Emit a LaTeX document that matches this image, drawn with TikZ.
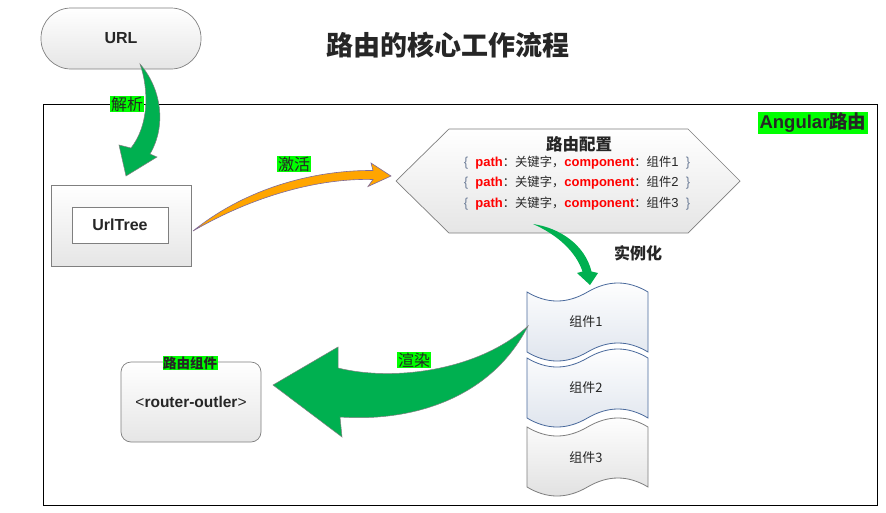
\documentclass[tikz,border=0pt]{standalone}
\usepackage{fontspec}
\setmainfont{Liberation Sans}
\newfontfamily\cjk{Noto Sans CJK SC}
\definecolor{arrgreen}{HTML}{00B050}
\definecolor{lblgreen}{HTML}{00FF00}
\definecolor{txt}{HTML}{262626}
\definecolor{bracec}{HTML}{6F7F99}
\definecolor{compblue}{HTML}{4A6A9C}
\definecolor{orng}{HTML}{FFA500}
\definecolor{orngline}{HTML}{7E6A9A}
\definecolor{edgegray}{HTML}{7F7F7F}
\definecolor{cfgred}{HTML}{FF0000}
\newcommand\cfgline[1]{{\color{bracec}\{}\ \ {\bfseries\color{cfgred}path}{\cjk\fontsize{12.3}{14}\selectfont ：关键字，}{\bfseries\color{cfgred}component}{\cjk\fontsize{12.3}{14}\selectfont ：组件}#1\ \ {\color{bracec}\}}}
\tikzset{
  greenlbl/.style={fill=lblgreen, inner sep=1pt, text=txt, font=\cjk\fontsize{16}{18}\selectfont},
  greenarrow/.style={fill=arrgreen, draw=edgegray, line width=0.5pt},
  grayshade/.style={top color=white, bottom color=black!10, draw=edgegray, line width=0.7pt},
  compblueshade/.style={top color=white, bottom color=compblue!18, draw=compblue, line width=0.8pt},
  compgrayshade/.style={top color=white, bottom color=black!12, draw=edgegray, line width=0.8pt},
  boldtext/.style={text=txt, font=\bfseries\fontsize{16}{18}\selectfont},
  comptext/.style={text=txt, font=\cjk\fontsize{13}{15}\selectfont},
}
\begin{document}
\begin{tikzpicture}[x=1pt,y=-1pt]
\useasboundingbox (0,0) rectangle (886,512);
\fill[white] (0,0) rectangle (886,512);

% title
\node[text=txt, font=\cjk\bfseries\fontsize{27}{30}\selectfont] (title) at (448,45) {路由的核心工作流程};

% frame
\draw[line width=0.9pt] (43,104) rectangle (877,505);
\node[fill=lblgreen, inner sep=1.5pt, text=txt, font=\bfseries\fontsize{18.5}{20}\selectfont] (ang) at (813,123) {Angular{\cjk 路由}};

% URL
\node[grayshade, rounded corners=30pt, minimum width=160, minimum height=61, boldtext] (url) at (121,38.5) {URL};

% UrlTree
\node[grayshade, minimum width=140, minimum height=81] (tree) at (121,225.5) {};
\node[draw=edgegray, fill=white, line width=0.7pt, minimum width=96, minimum height=36, boldtext] (treein) at (120,225) {UrlTree};

% config hexagon
\shade[grayshade] (396,181) -- (449,129) -- (688,129) -- (740,181) -- (688,233) -- (449,233) -- cycle;
\node[text=txt, font=\cjk\bfseries\fontsize{16.5}{18}\selectfont] (cfgtitle) at (579,144) {路由配置};
\node[text=txt, font=\fontsize{13}{15}\selectfont] (cfg1) at (577,163) {\cfgline{1}};
\node[text=txt, font=\fontsize{13}{15}\selectfont] (cfg2) at (577,183) {\cfgline{2}};
\node[text=txt, font=\fontsize{13}{15}\selectfont] (cfg3) at (577,204) {\cfgline{3}};

% components
\foreach \y/\sty/\n in {292/compblueshade/1, 358/compblueshade/2, 427/compgrayshade/3}{
  \shade[\sty] (527,\y) .. controls (547,\y+12) and (567,\y+12) .. (587.5,\y)
     .. controls (608,\y-12) and (628,\y-12) .. (648,\y) -- (648,\y+60)
     .. controls (628,\y+48) and (608,\y+48) .. (587.5,\y+60)
     .. controls (567,\y+72) and (547,\y+72) .. (527,\y+60) -- cycle;
}
\node[comptext] (comp1) at (586,322) {组件1};
\node[comptext] (comp2) at (586,388) {组件2};
\node[comptext] (comp3) at (586,458) {组件3};

% router-outlet box
\node[grayshade, rounded corners=10pt, minimum width=140, minimum height=80, text=txt, font=\bfseries\fontsize{15.5}{17}\selectfont] (outlet) at (191,402) {{\mdseries<}router-outler{\mdseries>}};
\node[fill=lblgreen, inner sep=0.5pt, text=txt, font=\cjk\bfseries\fontsize{13.5}{15}\selectfont] (outletlbl) at (190,363) {路由组件};

% arrow: parse (URL -> UrlTree)
\filldraw[greenarrow] (140,64) .. controls (149,90) and (149,125) .. (131,148)
   -- (119,145) -- (126,176) -- (157,157) -- (150,154)
   .. controls (167,125) and (161,88) .. (140,64) -- cycle;
\node[greenlbl] (parse) at (127,104) {解析};

% arrow: activate (UrlTree -> config)
\filldraw[fill=orng, draw=orngline, line width=0.6pt] (193,231)
   .. controls (250,185) and (320,170) .. (373,170.5)
   -- (371,163) -- (391,176) -- (368,186.5) -- (373,179.5)
   .. controls (320,178) and (255,195) .. (193,231) -- cycle;
\node[greenlbl] (act) at (294,164) {激活};

% arrow: instantiate (config -> components)
\filldraw[greenarrow, draw=none] (533,224) .. controls (560,228) and (585,245) .. (591.5,271.5)
   -- (598,273) -- (590,285) -- (577,273) -- (582.5,271.5)
   .. controls (576,252) and (558,235) .. (533,224) -- cycle;
\node[text=txt, font=\cjk\bfseries\fontsize{16}{18}\selectfont] (inst) at (638,253) {实例化};

% arrow: render (components -> outlet)
\filldraw[greenarrow] (528,326) .. controls (480,370) and (395,382) .. (338,368)
   -- (338,347) -- (273,385) -- (342,437) -- (340,417)
   .. controls (410,422) and (490,400) .. (528,326) -- cycle;
\node[greenlbl] (render) at (414,360) {渲染};
\end{tikzpicture}
\end{document}
